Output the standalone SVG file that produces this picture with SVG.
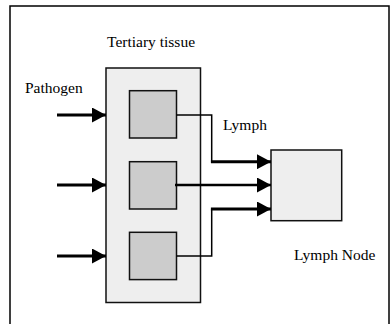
<svg xmlns="http://www.w3.org/2000/svg" width="392" height="324" viewBox="0 0 392 324">
<defs>
<marker id="ah" markerWidth="14" markerHeight="15" viewBox="0 0 14 15" refX="14" refY="7.5" orient="auto" markerUnits="userSpaceOnUse">
<path d="M0,0 L14,7.5 L0,15 Z" fill="#000"/>
</marker>
</defs>
<style>
.lbl{font-size:15.5px;fill:#000}
.thick{stroke:#000;stroke-width:3;fill:none}
.mid{stroke:#000;stroke-width:2.4;fill:none}
.thin{stroke:#000;stroke-width:1.5;fill:none}
.box{stroke:#111;stroke-width:1.5}
</style>
<rect x="0" y="0" width="392" height="324" fill="#fff"/>
<rect x="10" y="6" width="379" height="330" fill="#fff" stroke="#000" stroke-width="1.5"/>
<g id="tissue">
<rect class="box" x="106" y="68" width="94.5" height="234.5" fill="#eeeeee"/>
<text class="lbl" font-family="Liberation Serif, Times New Roman, serif" x="107" y="47">Tertiary tissue</text>
</g>
<g id="cell1"><rect class="box" x="129.5" y="90.7" width="47" height="47.3" fill="#cccccc"/></g>
<g id="cell2"><rect class="box" x="129.5" y="161.7" width="47" height="47.3" fill="#cccccc"/></g>
<g id="cell3"><rect class="box" x="129.5" y="232.3" width="47" height="47.3" fill="#cccccc"/></g>
<g id="lymphnode">
<rect class="box" x="271" y="150" width="70.7" height="70.7" fill="#eeeeee"/>
<text class="lbl" font-family="Liberation Serif, Times New Roman, serif" x="294" y="260">Lymph Node</text>
</g>
<g id="labels">
<text class="lbl" font-family="Liberation Serif, Times New Roman, serif" x="25" y="93">Pathogen</text>
<text class="lbl" font-family="Liberation Serif, Times New Roman, serif" x="223" y="130">Lymph</text>
</g>
<g id="connectors">
<line class="thick" x1="57" y1="115" x2="106" y2="115" marker-end="url(#ah)"/>
<line class="thick" x1="57" y1="185" x2="106" y2="185" marker-end="url(#ah)"/>
<line class="thick" x1="57" y1="256" x2="106" y2="256" marker-end="url(#ah)"/>
<polyline class="thin" points="176.5,115 211.7,115 211.7,161.7"/>
<line class="thick" x1="210.9" y1="161.7" x2="271" y2="161.7" marker-end="url(#ah)"/>
<line class="mid" x1="175" y1="185" x2="271" y2="185" marker-end="url(#ah)"/>
<polyline class="thin" points="176.5,256 211.7,256 211.7,209"/>
<line class="thick" x1="210.9" y1="209" x2="271" y2="209" marker-end="url(#ah)"/>
</g>
</svg>
